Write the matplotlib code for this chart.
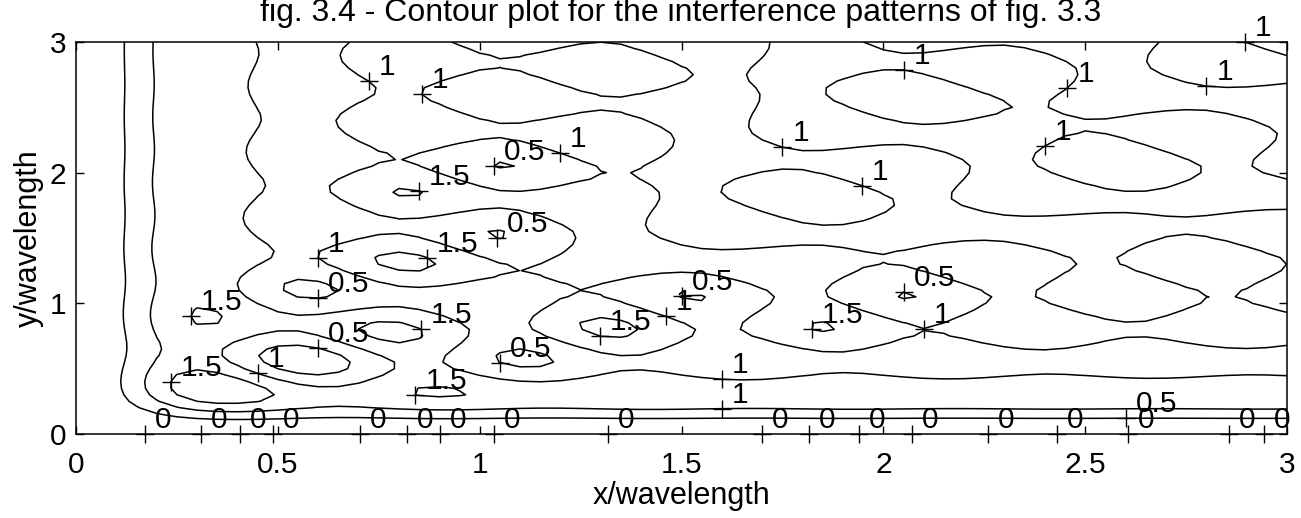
import numpy as np
import matplotlib
matplotlib.use("Agg")
import matplotlib.pyplot as plt

plt.rcParams['font.family'] = ['Liberation Sans', 'DejaVu Sans']

# grid of observation points, in wavelengths
wavelength = 1.0
step = 0.05
x = np.arange(0, 3 + step / 2, step)
y = np.arange(0, 3 + step / 2, step)
n_angles = 720          # arrival directions averaged over
levels = [0.5, 1.0, 1.5]

# contour labels: level and where the "+" sits
lab_level = [1, 1, 1, 1, 1, 1, 1, 1, 1, 1, 1, 1, 1, 1, 1, 1,
             0.5, 0.5, 0.5, 0.5, 0.5, 0.5, 0.5, 0.5,
             1.5, 1.5, 1.5, 1.5, 1.5, 1.5, 1.5, 1.5]
lab_x = [0.713, 0.864, 2.07, 2.457, 2.817, 2.896, 1.947, 2.41, 1.774, 1.191,
         0.596, 0.456, 1.475, 2.12, 1.62, 1.62,
         1.038, 1.042, 0.609, 0.600, 1.521, 2.06, 1.068, 2.61,
         0.847, 0.860, 0.287, 0.856, 0.233, 0.840, 1.294, 1.823]
lab_y = [2.724, 2.578, 2.71, 2.655, 2.655, 3.0, 1.89, 2.22, 2.17, 2.152,
         1.357, 0.464, 0.872, 0.83, 0.426, 0.237,
         2.045, 1.530, 1.051, 0.656, 1.051, 1.08, 0.528, 0.12,
         1.85, 1.357, 0.880, 0.775, 0.375, 0.311, 0.745, 0.81]
# the zero contour runs along the ground (y = 0)
zero_x = [0.171, 0.310, 0.406, 0.488, 0.703, 0.820, 0.902, 1.035, 1.318,
          1.70, 1.816, 1.94, 2.07, 2.26, 2.43, 2.606, 2.856, 2.943]

# mean power near a corner of two reflecting walls, averaged over arrival angle
k = 2 * np.pi / wavelength
X, Y = np.meshgrid(x, y)
theta = (np.arange(n_angles) + 0.5) * 2 * np.pi / n_angles
P = (4 * np.sin(k * X[..., None] * np.cos(theta)) ** 2
     * np.sin(k * Y[..., None] * np.sin(theta)) ** 2).mean(axis=-1)

fig = plt.figure(figsize=(13.01, 5.18), dpi=100)
ax = fig.add_axes([76 / 1301, 84 / 518, 1211 / 1301, 392 / 518])
cs = ax.contour(X, Y, P, levels=levels, colors='k', linewidths=1.1)

yscale = 130.7 / 403.7


def snap(level, px, py):
    segs = cs.allsegs[levels.index(level)]
    best, bd = (px, py), 0.15
    for s in segs:
        if len(s) == 0:
            continue
        d = np.hypot(s[:, 0] - px, (s[:, 1] - py) * yscale)
        i = np.argmin(d)
        if d[i] < bd:
            bd = d[i]
            best = (s[i, 0], s[i, 1])
    return best


def put_label(px, py, text):
    ax.plot(px, py, '+', color='k', ms=13, mew=1.0, clip_on=False)
    ax.annotate(text, (px, py), xytext=(10, 6), textcoords='offset pixels',
                ha='left', va='baseline', fontsize=21.5, annotation_clip=False)


for lv, lx, ly in zip(lab_level, lab_x, lab_y):
    sx, sy = snap(lv, lx, ly)
    put_label(sx, sy, '%g' % lv)
for zx in zero_x:
    put_label(zx, 0.0, '0')

ax.set_xlim(0, 3)
ax.set_ylim(0, 3)
ax.set_xticks([0, 0.5, 1, 1.5, 2, 2.5, 3])
ax.set_xticklabels(['0', '0.5', '1', '1.5', '2', '2.5', '3'])
ax.set_yticks([0, 1, 2, 3])
ax.tick_params(direction='in', length=6, width=1.0, top=True, right=True,
               labelsize=21.5)
ax.tick_params(axis='x', pad=12)
ax.tick_params(axis='y', pad=7)
for sp in ax.spines.values():
    sp.set_linewidth(1.1)
ax.set_xlabel('x/wavelength', fontsize=22, labelpad=2)
ax.set_ylabel('y/wavelength', fontsize=22, labelpad=4)
fig.text(680.5 / 1301, 1 - 21 / 518,
         'fig. 3.4 - Contour plot for the interference patterns of fig. 3.3',
         ha='center', va='baseline', fontsize=23)

fig.savefig('out.png', dpi=100)
